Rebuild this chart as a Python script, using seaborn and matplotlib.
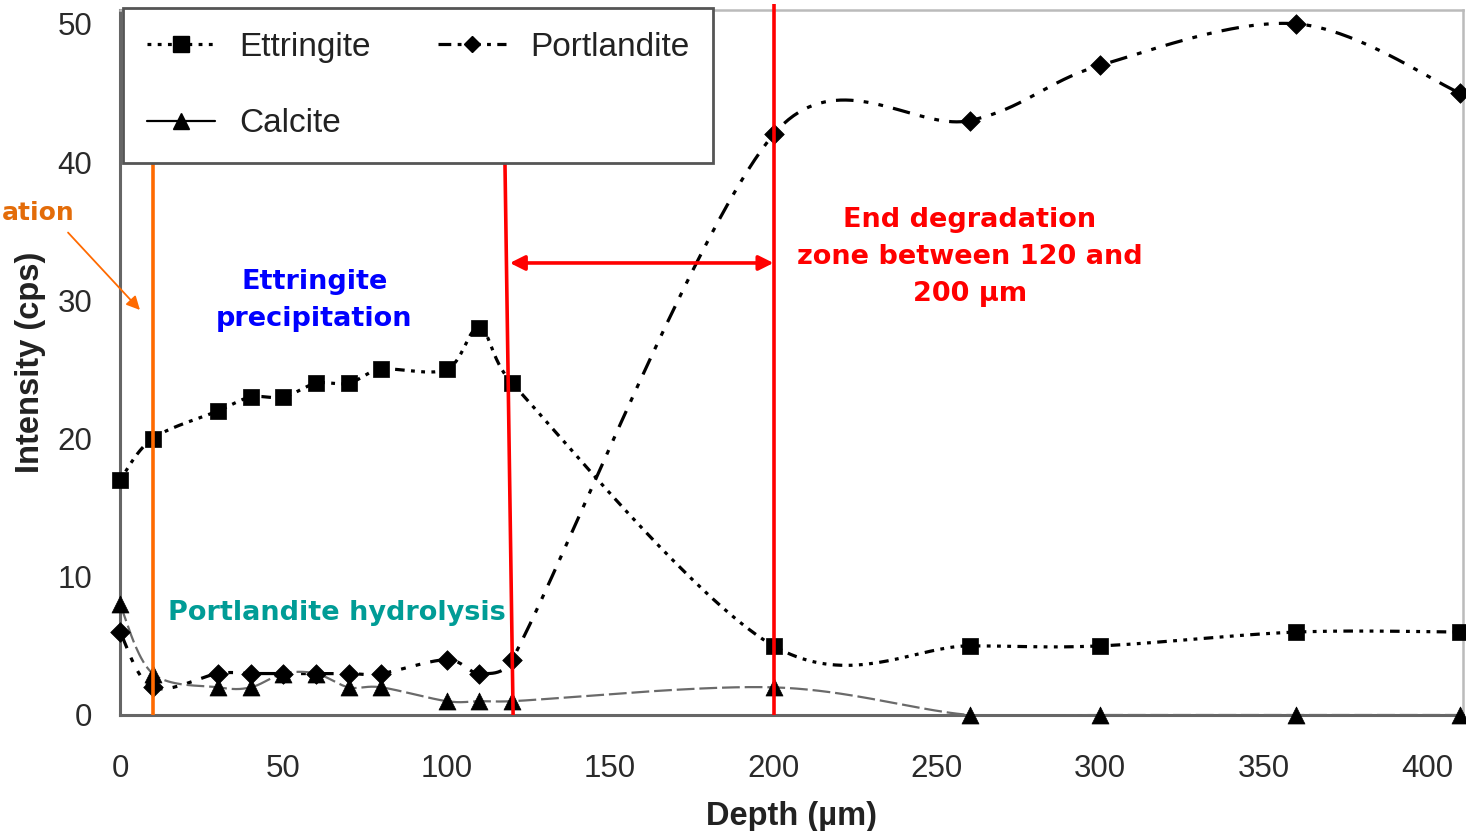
import numpy as np
import pandas as pd
import matplotlib
matplotlib.use("Agg")
import matplotlib.pyplot as plt
from matplotlib.lines import Line2D
import seaborn as sns

# ---------------- data ----------------
depth = [0, 10, 30, 40, 50, 60, 70, 80, 100, 110, 120, 200, 260, 300, 360, 410]
ettringite = [17, 20, 22, 23, 23, 24, 24, 25, 25, 28, 24, 5, 5, 5, 6, 6]
portlandite = [6, 2, 3, 3, 3, 3, 3, 3, 4, 3, 4, 42, 43, 47, 50, 45]
calcite = [8, 3, 2, 2, 3, 3, 2, 2, 1, 1, 1, 2, 0, 0, 0, 0]
series_names = ["Ettringite", "Portlandite", "Calcite"]

x_ticks = [0, 50, 100, 150, 200, 250, 300, 350, 400]
y_ticks = [0, 10, 20, 30, 40, 50]

# annotation guide positions (data units)
orange_line_x = 10.2
zone_start_top, zone_start_bottom = 117.8, 120.3
zone_end_x = 200
guide_top = 40.1
arrow_y = 32.7

sns.set_style("white")
plt.rcParams["font.family"] = ["Liberation Sans", "DejaVu Sans"]

W, H = 1466, 831
fig = plt.figure(figsize=(W / 100, H / 100), dpi=100)
ax = fig.add_axes([120 / W, 116 / H, (1463 - 120) / W, (715 - 10) / H])
XLIM, YLIM = (0, 411), (0, 51)
SX = (1463 - 120) / (XLIM[1] - XLIM[0])   # px per x unit
SY = (715 - 10) / (YLIM[1] - YLIM[0])     # px per y unit


def excel_smooth(xs, ys, n=40, k=0.5):
    """Excel-style smoothed line (Catmull-Rom Bezier, computed in screen space)."""
    P = np.column_stack([np.asarray(xs, float) * SX, np.asarray(ys, float) * SY])
    out = []
    for i in range(len(P) - 1):
        p0 = P[i - 1] if i > 0 else P[i]
        p1, p2 = P[i], P[i + 1]
        p3 = P[i + 2] if i + 2 < len(P) else P[i + 1]
        seg_len = np.linalg.norm(p2 - p1)
        t1 = (p2 - p0) / 6.0
        t2 = (p3 - p1) / 6.0
        for tv in (t1, t2):
            L = np.linalg.norm(tv)
            if L > k * seg_len and L > 0:
                tv *= k * seg_len / L
        c1 = p1 + t1
        c2 = p2 - t2
        t = np.linspace(0, 1, n)[:, None]
        seg = ((1 - t) ** 3) * p1 + 3 * ((1 - t) ** 2) * t * c1 + 3 * (1 - t) * t ** 2 * c2 + t ** 3 * p2
        out.append(seg if i == 0 else seg[1:])
    arr = np.vstack(out)
    return arr[:, 0] / SX, arr[:, 1] / SY


styles = {
    "Ettringite": dict(y=ettringite, marker="s", ms=140, lw=2.3, color="black",
                       ls=(0, (1.2, 2.0, 1.2, 2.0, 1.2, 2.0, 3.0, 2.0))),
    "Portlandite": dict(y=portlandite, marker="D", ms=100, lw=2.3, color="black",
                        ls=(0, (5.5, 3.2, 1.5, 3.2, 1.5, 3.2))),
    "Calcite": dict(y=calcite, marker="^", ms=150, lw=1.6, color="#6a6a6a",
                    ls=(0, (8, 2.2))),
}

for name in series_names:
    st = styles[name]
    cx, cy = excel_smooth(depth, st["y"])
    df_line = pd.DataFrame({"x": cx, "y": cy})
    sns.lineplot(data=df_line, x="x", y="y", ax=ax, sort=False, estimator=None,
                 color=st["color"], linewidth=st["lw"], linestyle=st["ls"], zorder=3)
    df_pts = pd.DataFrame({"x": depth, "y": st["y"]})
    sns.scatterplot(data=df_pts, x="x", y="y", ax=ax, marker=st["marker"], s=st["ms"],
                    color="black", edgecolor="black", linewidth=0.5, zorder=4, clip_on=False)

# guide lines
ax.plot([orange_line_x, orange_line_x], [0, guide_top], color="#FF6A00", lw=2.6, zorder=5,
        solid_capstyle="butt")
ax.plot([zone_start_top, zone_start_bottom], [guide_top, 0], color="#FF0000", lw=2.6, zorder=5,
        solid_capstyle="butt")
ax.plot([zone_end_x, zone_end_x], [0, 51.4], color="#FF0000", lw=2.6, zorder=5,
        clip_on=False, solid_capstyle="butt")
ax.annotate("", xy=(zone_start_bottom - 1.0, arrow_y), xytext=(zone_end_x, arrow_y),
            arrowprops=dict(arrowstyle="<|-|>", color="#FF0000", lw=2.6,
                            mutation_scale=22, shrinkA=0, shrinkB=0), zorder=6)

# orange pointer arrow (from the cut-off label)
ax.annotate("", xy=(6.1, 29.3), xytext=(-15.9, 34.9),
            arrowprops=dict(arrowstyle="-|>", color="#FF6A00", lw=1.3,
                            mutation_scale=20, shrinkA=0, shrinkB=0),
            annotation_clip=False, zorder=6)

# annotation texts
afont = dict(family="DejaVu Sans", fontweight="bold", fontsize=19.5)
ax.text(260, 33.1, "End degradation\nzone between 120 and\n200 \u00b5m", color="#FF0000",
        ha="center", va="center", linespacing=1.55, **afont)
ax.text(59.5, 30.0, "Ettringite\nprecipitation", color="#0000FF", ha="center", va="center",
        linespacing=1.55, **afont)
ax.text(66.5, 7.4, "Portlandite hydrolysis", color="#009C96", ha="center", va="center", **afont)
fig.text(2 / W, 1 - 213 / H, "ation", color="#E36C09", ha="left", va="center",
         family="DejaVu Sans", fontweight="bold", fontsize=18)

# axes styling
ax.set_xlim(*XLIM)
ax.set_ylim(*YLIM)
ax.set_xticks(x_ticks)
ax.set_yticks(y_ticks)
ax.tick_params(axis="both", which="major", direction="out", length=9, width=1.6,
               color="#555555", labelsize=22.5, labelcolor="#2a2a2a")
ax.tick_params(axis="x", pad=19)
ax.tick_params(axis="y", pad=11)
ax.set_xlabel("Depth (\u00b5m)", fontsize=23.5, fontweight="bold", color="#222222", labelpad=12)
ax.set_ylabel("Intensity (cps)", fontsize=23.5, fontweight="bold", color="#222222", labelpad=8)

for side in ["left", "bottom"]:
    ax.spines[side].set_color("#666666")
    ax.spines[side].set_linewidth(2.2)
for side in ["top", "right"]:
    ax.spines[side].set_color("#bbbbbb")
    ax.spines[side].set_linewidth(1.8)

# legend
handles = [
    Line2D([], [], color="black", lw=2.3, linestyle=(0, (1.2, 2.0)), marker="s", markersize=11.5),
    Line2D([], [], color="black", lw=1.6, linestyle="-", marker="^", markersize=12),
    Line2D([], [], color="black", lw=2.3, linestyle=(0, (4.0, 2.0, 1.2, 2.0)), marker="D", markersize=8.5),
]
labels = ["Ettringite", "Calcite", "Portlandite"]
leg = ax.legend(handles, labels, ncol=2, loc="upper left",
                bbox_to_anchor=(123 / W, 1 - 8 / H), bbox_transform=fig.transFigure,
                fontsize=24, frameon=True, fancybox=False, framealpha=1,
                edgecolor="#555555", borderpad=0.72, labelspacing=1.36,
                handlelength=2.05, handletextpad=0.72, columnspacing=2.0,
                borderaxespad=0)
leg.get_frame().set_linewidth(2)
for t in leg.get_texts():
    t.set_color("#222222")
leg.set_zorder(10)

fig.savefig("out.png", dpi=100)
